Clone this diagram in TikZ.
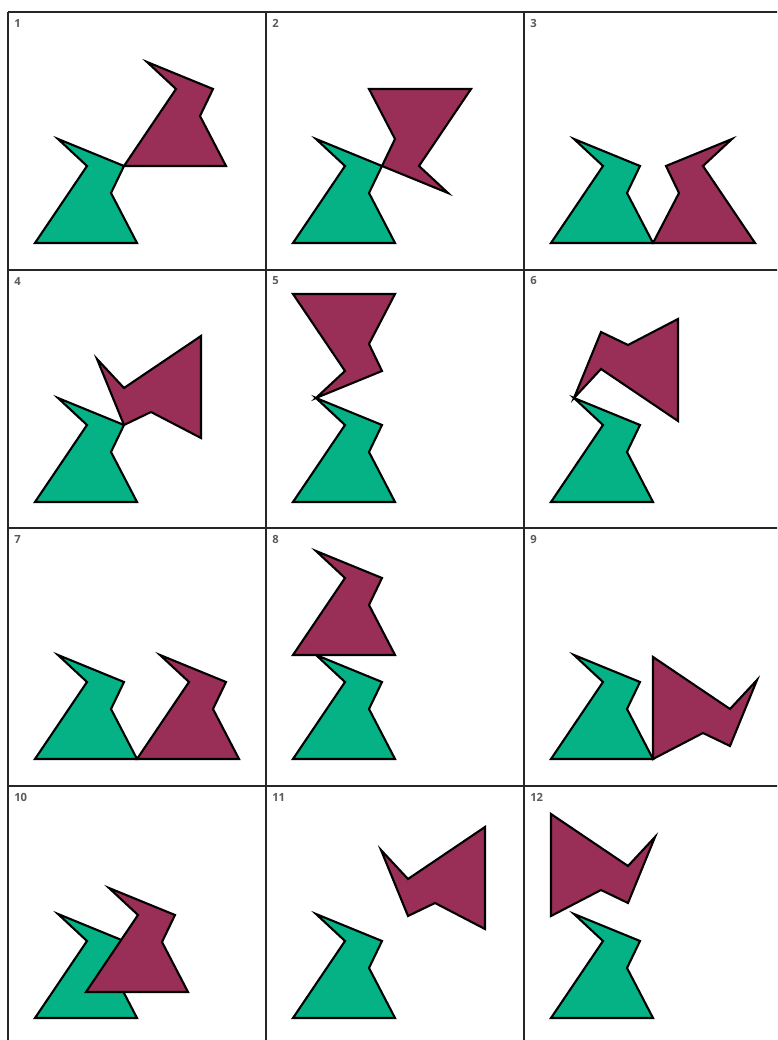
\documentclass[tikz,border=0pt]{standalone}
\usepackage{fontspec}
\setmainfont{Open Sans}
\usepackage{tikz}
\usepackage{xcolor}
\definecolor{figgreen}{RGB}{4,178,134}
\definecolor{figmaroon}{RGB}{153,46,86}
\definecolor{labelgray}{RGB}{90,90,90}
% the flag-like figure, bottom-left corner at the origin
\newcommand{\drawfig}[1]{\draw[#1] (0,0) -- (102,0) -- (76,50) -- (89,77) -- (23,104) -- (52,77) -- cycle;}

\begin{document}
\begin{tikzpicture}[x=0.025cm,y=0.025cm,
  image/.style={fill=figgreen,draw=black,line width=1.5pt},
  object/.style={fill=figmaroon,draw=black,line width=1.5pt},
  gridline/.style={draw=black!85,line width=1.9pt},
  num/.style={anchor=west,inner sep=0pt,text=labelgray,font=\fontsize{8}{9.5}\selectfont\bfseries}
]
  \useasboundingbox (0,0) rectangle (777,1040);
  \clip (0,0) rectangle (777,1040);
  % Grid
  \foreach \x in {8,266,524} \draw[gridline] (\x,1028) -- (\x,-10);
  \foreach \y in {1028,770,512,254} \draw[gridline] (8,\y) -- (790,\y);
  % Cell numbers
  \node[num] (n1) at (14,1017) {1};
  \node[num] (n2) at (272,1017) {2};
  \node[num] (n3) at (530,1017) {3};
  \node[num] (n4) at (14,759) {4};
  \node[num] (n5) at (272,759) {5};
  \node[num] (n6) at (530,759) {6};
  \node[num] (n7) at (14,501) {7};
  \node[num] (n8) at (272,501) {8};
  \node[num] (n9) at (530,501) {9};
  \node[num] (n10) at (14,243) {10};
  \node[num] (n11) at (272,243) {11};
  \node[num] (n12) at (530,243) {12};
  % Row 1
  \begin{scope}[shift={(35,797)}]
    \drawfig{image}
    \drawfig{object,shift={(89,77)}}
  \end{scope}
  \begin{scope}[shift={(293,797)}]
    \drawfig{image}
    \drawfig{object,rotate around={180:(89,77)}}
  \end{scope}
  \begin{scope}[shift={(551,797)}]
    \drawfig{image}
    \drawfig{object,shift={(204,0)},xscale=-1}
  \end{scope}
  % Row 2
  \begin{scope}[shift={(35,538)}]
    \drawfig{image}
    \drawfig{object,cm={0,-1,-1,0,(166,166)}}
  \end{scope}
  \begin{scope}[shift={(293,538)}]
    \drawfig{image}
    \drawfig{object,shift={(0,208)},yscale=-1}
  \end{scope}
  \begin{scope}[shift={(551,538)}]
    \drawfig{image}
    \drawfig{object,rotate around={90:(23,104)}}
  \end{scope}
  % Row 3
  \begin{scope}[shift={(35,281)}]
    \drawfig{image}
    \drawfig{object,shift={(102,0)}}
  \end{scope}
  \begin{scope}[shift={(293,281)}]
    \drawfig{image}
    \drawfig{object,shift={(0,104)}}
  \end{scope}
  \begin{scope}[shift={(551,281)}]
    \drawfig{image}
    \drawfig{object,rotate around={-90:(102,0)}}
  \end{scope}
  % Row 4
  \begin{scope}[shift={(35,22)}]
    \drawfig{image}
    \drawfig{object,shift={(51,26)}}
  \end{scope}
  \begin{scope}[shift={(293,22)}]
    \drawfig{image}
    \drawfig{object,cm={0,-1,-1,0,(192,191)}}
  \end{scope}
  \begin{scope}[shift={(551,22)}]
    \drawfig{image}
    \drawfig{object,rotate around={-90:(102,102)}}
  \end{scope}
\end{tikzpicture}
\end{document}
